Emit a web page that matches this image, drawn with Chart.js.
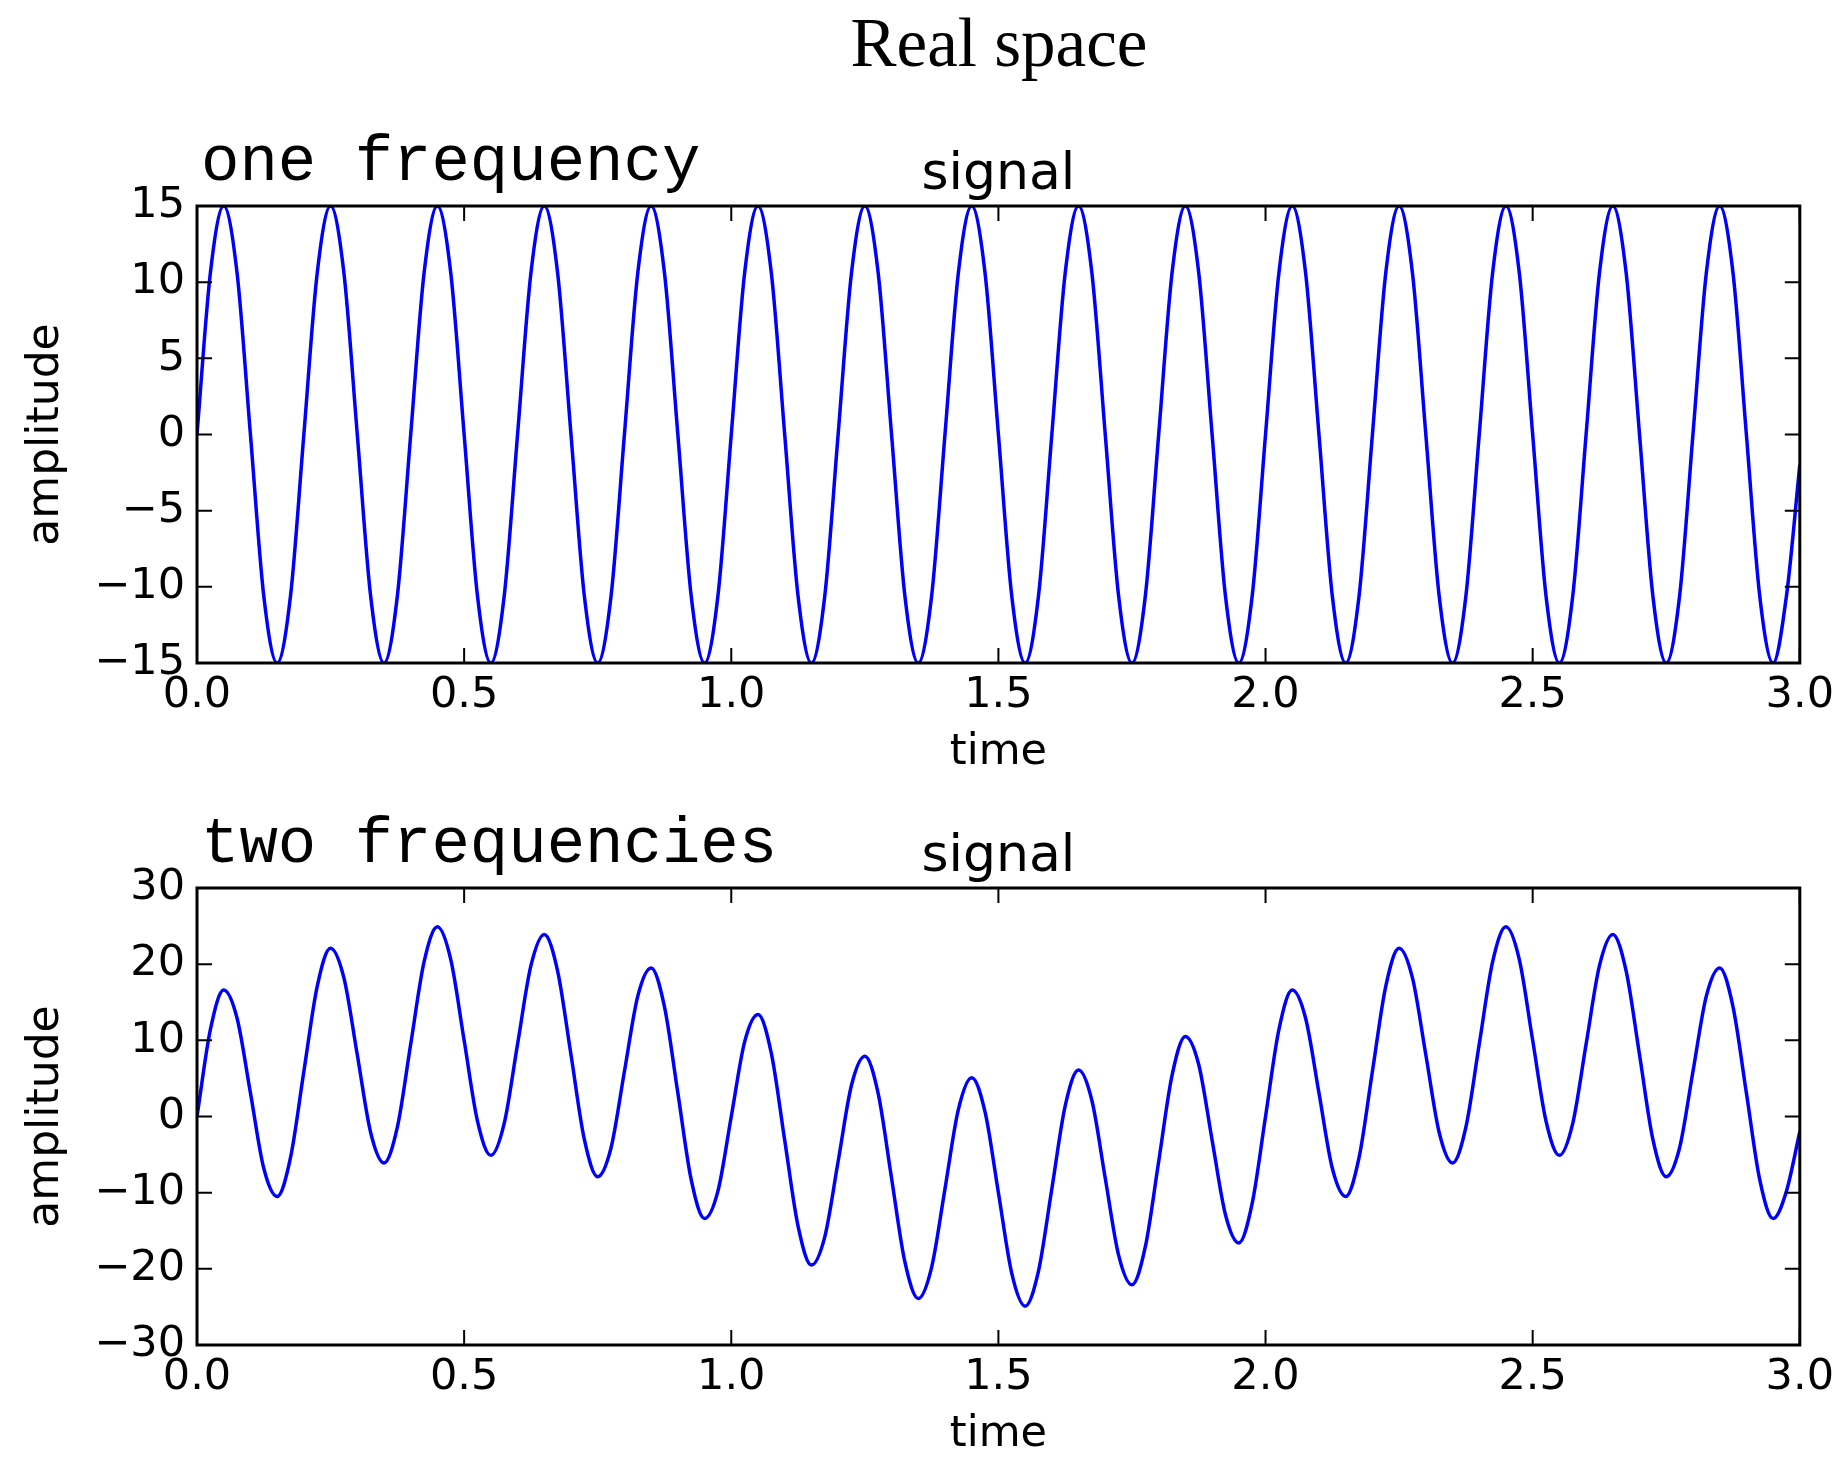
<!DOCTYPE html>
<html>
<head>
<meta charset="utf-8">
<title>Real space</title>
<script src="https://cdn.jsdelivr.net/npm/chart.js@4.4.1/dist/chart.umd.min.js"></script>
<style>
    body { margin: 0; background: #fff; }
    #figure { position: relative; width: 1845px; height: 1458px; overflow: hidden; background: #fff; }
    canvas { position: absolute; left: 0; }
    .suptitle {
        position: absolute; left: 0; top: 9px; width: 1998px; text-align: center;
        font-family: 'Liberation Serif', 'DejaVu Serif', serif; font-size: 69px; line-height: 69px; color: #000;
    }
    .note {
        position: absolute; left: 201px;
        font-family: 'Liberation Mono', 'DejaVu Sans Mono', monospace; font-size: 64px; line-height: 64px; color: #000;
        white-space: pre;
    }
</style>
</head>
<body>
<div id="figure">
    <canvas id="oneFreqChart" width="1845" height="670" style="top:120px"></canvas>
    <canvas id="twoFreqChart" width="1845" height="670" style="top:802px"></canvas>
    <div class="suptitle">Real space</div>
    <div class="note" style="top:131px">one frequency</div>
    <div class="note" style="top:813px">two frequencies</div>
</div>
<script>
// sample times (s)
const timeValues = [
    0.000, 0.025, 0.050, 0.075, 0.100, 0.125, 0.150, 0.175, 0.200, 0.225,
    0.250, 0.275, 0.300, 0.325, 0.350, 0.375, 0.400, 0.425, 0.450, 0.475,
    0.500, 0.525, 0.550, 0.575, 0.600, 0.625, 0.650, 0.675, 0.700, 0.725,
    0.750, 0.775, 0.800, 0.825, 0.850, 0.875, 0.900, 0.925, 0.950, 0.975,
    1.000, 1.025, 1.050, 1.075, 1.100, 1.125, 1.150, 1.175, 1.200, 1.225,
    1.250, 1.275, 1.300, 1.325, 1.350, 1.375, 1.400, 1.425, 1.450, 1.475,
    1.500, 1.525, 1.550, 1.575, 1.600, 1.625, 1.650, 1.675, 1.700, 1.725,
    1.750, 1.775, 1.800, 1.825, 1.850, 1.875, 1.900, 1.925, 1.950, 1.975,
    2.000, 2.025, 2.050, 2.075, 2.100, 2.125, 2.150, 2.175, 2.200, 2.225,
    2.250, 2.275, 2.300, 2.325, 2.350, 2.375, 2.400, 2.425, 2.450, 2.475,
    2.500, 2.525, 2.550, 2.575, 2.600, 2.625, 2.650, 2.675, 2.700, 2.725,
    2.750, 2.775, 2.800, 2.825, 2.850, 2.875, 2.900, 2.925, 2.950, 2.975,
    3.000
];

// top panel: single frequency (one period per row)
const oneFreqValues = [
    0, 10.6, 15, 10.6, 0, -10.6, -15, -10.6,
    0, 10.6, 15, 10.6, 0, -10.6, -15, -10.6,
    0, 10.6, 15, 10.6, 0, -10.6, -15, -10.6,
    0, 10.6, 15, 10.6, 0, -10.6, -15, -10.6,
    0, 10.6, 15, 10.6, 0, -10.6, -15, -10.6,
    0, 10.6, 15, 10.6, 0, -10.6, -15, -10.6,
    0, 10.6, 15, 10.6, 0, -10.6, -15, -10.6,
    0, 10.6, 15, 10.6, 0, -10.6, -15, -10.6,
    0, 10.6, 15, 10.6, 0, -10.6, -15, -10.6,
    0, 10.6, 15, 10.6, 0, -10.6, -15, -10.6,
    0, 10.6, 15, 10.6, 0, -10.6, -15, -10.6,
    0, 10.6, 15, 10.6, 0, -10.6, -15, -10.6,
    0, 10.6, 15, 10.6, 0, -10.6, -15, -10.6,
    0, 10.6, 15, 10.6, 0, -10.6, -15, -10.6,
    0, 10.6, 15, 10.6, 0, -10.6, -15, -10.6,
    -2
];

// bottom panel: two frequencies
const twoFreqValues = [
    0, 11.4, 16.6, 12.9, 3.1, -6.8, -10.5, -5.4, 5.9, 17.1,
    22.1, 18.2, 8.1, -2.1, -6.1, -1.4, 9.5, 20.3, 24.9, 20.6,
    10, -0.6, -5.1, -0.9, 9.5, 19.8, 23.9, 19.1, 8.1, -3.0,
    -7.9, -4.1, 5.9, 15.8, 19.5, 14.4, 3.1, -8.3, -13.4, -9.8,
    0, 9.8, 13.4, 8.3, -3.1, -14.4, -19.5, -15.8, -5.9, 4.1,
    7.9, 3.0, -8.1, -19.1, -23.9, -19.8, -9.5, 0.9, 5.1, 0.6,
    -10, -20.6, -24.9, -20.3, -9.5, 1.4, 6.1, 2.1, -8.1, -18.2,
    -22.1, -17.1, -5.9, 5.4, 10.5, 6.8, -3.1, -12.9, -16.6, -11.4,
    0, 11.4, 16.6, 12.9, 3.1, -6.8, -10.5, -5.4, 5.9, 17.1,
    22.1, 18.2, 8.1, -2.1, -6.1, -1.4, 9.5, 20.3, 24.9, 20.6,
    10, -0.6, -5.1, -0.9, 9.5, 19.8, 23.9, 19.1, 8.1, -3.0,
    -7.9, -4.1, 5.9, 15.8, 19.5, 14.4, 3.1, -8.3, -13.4, -9.8,
    -2
];

// tick values
const timeTicks = [0.0, 0.5, 1.0, 1.5, 2.0, 2.5, 3.0];
const oneFreqTicks = [-15, -10, -5, 0, 5, 10, 15];
const twoFreqTicks = [-30, -20, -10, 0, 10, 20, 30];

const FONT = 'DejaVu Sans';
const TICK_LEN = 15;

// matplotlib style frame with inward ticks on all four sides
const frameTicks = {
    id: 'frameTicks',
    afterDatasetsDraw(chart) {
        const { ctx, chartArea: a, scales: { x, y } } = chart;
        ctx.save();
        ctx.strokeStyle = '#000';
        ctx.lineWidth = 2;
        ctx.beginPath();
        x.ticks.forEach(t => {
            const px = x.getPixelForValue(t.value);
            ctx.moveTo(px, a.bottom); ctx.lineTo(px, a.bottom - TICK_LEN);
            ctx.moveTo(px, a.top); ctx.lineTo(px, a.top + TICK_LEN);
        });
        y.ticks.forEach(t => {
            const py = y.getPixelForValue(t.value);
            ctx.moveTo(a.left, py); ctx.lineTo(a.left + TICK_LEN, py);
            ctx.moveTo(a.right, py); ctx.lineTo(a.right - TICK_LEN, py);
        });
        ctx.stroke();
        ctx.lineWidth = 3;
        ctx.strokeRect(a.left, a.top, a.right - a.left, a.bottom - a.top);
        ctx.restore();
    }
};

function signalChart(canvasId, values, yTicks) {
    const ctx = document.getElementById(canvasId).getContext('2d');
    return new Chart(ctx, {
        type: 'line',
        data: {
            datasets: [{
                data: timeValues.map((t, i) => ({ x: t, y: values[i] })),
                borderColor: '#0000ff',
                borderWidth: 3.5,
                pointRadius: 0,
                fill: false,
                cubicInterpolationMode: 'monotone'
            }]
        },
        options: {
            responsive: false,
            animation: false,
            layout: {
                padding: { left: 0, right: 43, top: 29, bottom: 0 }
            },
            plugins: {
                legend: { display: false },
                tooltip: { enabled: false },
                title: {
                    display: true,
                    fullSize: false,
                    text: 'signal',
                    color: '#000',
                    font: { family: FONT, size: 52, weight: 'normal', lineHeight: 1 },
                    padding: { top: 0, bottom: 5 }
                }
            },
            scales: {
                x: {
                    type: 'linear',
                    min: timeTicks[0],
                    max: timeTicks[timeTicks.length - 1],
                    afterBuildTicks: s => { s.ticks = timeTicks.map(v => ({ value: v })); },
                    afterFit: s => { s.height = 127; },
                    grid: { display: false, drawTicks: false },
                    border: { display: false },
                    ticks: {
                        padding: 11,
                        color: '#000',
                        maxRotation: 0,
                        autoSkip: false,
                        font: { family: FONT, size: 43, lineHeight: 1 },
                        callback: value => Number(value).toFixed(1)
                    },
                    title: {
                        display: true,
                        text: 'time',
                        color: '#000',
                        font: { family: FONT, size: 43, lineHeight: 1 },
                        padding: { top: 0, bottom: 16 }
                    }
                },
                y: {
                    type: 'linear',
                    min: yTicks[0],
                    max: yTicks[yTicks.length - 1],
                    afterBuildTicks: s => { s.ticks = yTicks.map(v => ({ value: v })); },
                    afterFit: s => { s.width = 197; },
                    grid: { display: false, drawTicks: false },
                    border: { display: false },
                    ticks: {
                        padding: 12,
                        color: '#000',
                        font: { family: FONT, size: 43, lineHeight: 1 },
                        callback: value => value < 0 ? '\u2212' + Math.abs(value) : String(value)
                    },
                    title: {
                        display: true,
                        text: 'amplitude',
                        color: '#000',
                        font: { family: FONT, size: 44, lineHeight: 1 },
                        padding: { top: 25, bottom: 0 }
                    }
                }
            }
        },
        plugins: [frameTicks]
    });
}

document.addEventListener('DOMContentLoaded', function() {
    signalChart('oneFreqChart', oneFreqValues, oneFreqTicks);
    signalChart('twoFreqChart', twoFreqValues, twoFreqTicks);
});
</script>
</body>
</html>
